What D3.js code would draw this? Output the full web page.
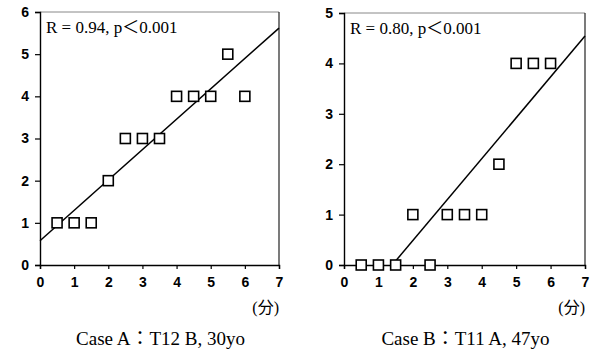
<!DOCTYPE html>
<html>
<head>
<meta charset="utf-8">
<script src="https://cdn.jsdelivr.net/npm/d3@7"></script>
<style>
  html, body { margin: 0; padding: 0; background: #fff; }
  svg { display: block; }
  .tick text { font-family: "Liberation Sans", Arial, sans-serif; font-weight: bold; font-size: 14px; fill: #000; }
  .serif { font-family: "Liberation Serif", "Times New Roman", "Noto Sans CJK JP", serif; fill: #000; }
</style>
</head>
<body>
<svg id="chart" width="594" height="356"></svg>
<script>
// Time in minutes (x) for both cases
const minutes = [0.5, 1, 1.5, 2, 2.5, 3, 3.5, 4, 4.5, 5, 5.5, 6];
// Scores per case
const caseAScores = [1, 1, 1, 2, 3, 3, 3, 4, 4, 4, 5, 4];
const caseBScores = [0, 0, 0, 1, 0, 1, 1, 1, 2, 4, 4, 4];
// Axis ticks
const xTicks = [0, 1, 2, 3, 4, 5, 6, 7];
const caseAYTicks = [0, 1, 2, 3, 4, 5, 6];
const caseBYTicks = [0, 1, 2, 3, 4, 5];
// Labels
const statLabels = ["R = 0.94, p＜0.001", "R = 0.80, p＜0.001"];
const captions = ["Case A：T12 B, 30yo", "Case B：T11 A, 47yo"];
const unitLabel = "(分)";

const svg = d3.select("#chart");

function linearFit(xs, ys) {
  const mx = d3.mean(xs), my = d3.mean(ys);
  let sxy = 0, sxx = 0;
  xs.forEach((x, i) => { sxy += (x - mx) * (ys[i] - my); sxx += (x - mx) * (x - mx); });
  const slope = sxy / sxx;
  return { slope, intercept: my - slope * mx };
}

function panel(cfg) {
  const { left, right, top, bottom, ys, yTicks, stat, caption } = cfg;
  const x = d3.scaleLinear().domain([0, 7]).range([left, right]);
  const y = d3.scaleLinear().domain([0, d3.max(yTicks)]).range([bottom, top]);
  const g = svg.append("g");

  // frame: top and right edges
  g.append("line").attr("x1", left).attr("x2", right).attr("y1", top).attr("y2", top)
    .attr("stroke", "#888").attr("stroke-width", 1);
  g.append("line").attr("x1", right).attr("x2", right).attr("y1", top).attr("y2", bottom)
    .attr("stroke", "#222").attr("stroke-width", 1.2);

  const xAxis = g.append("g").attr("transform", `translate(0,${bottom})`)
    .call(d3.axisBottom(x).tickValues(xTicks).tickFormat(d3.format("d")).tickSizeOuter(0).tickSize(4).tickPadding(8));
  const yAxis = g.append("g").attr("transform", `translate(${left},0)`)
    .call(d3.axisLeft(y).tickValues(yTicks).tickFormat(d3.format("d")).tickSizeOuter(0).tickSize(5).tickPadding(6));
  [xAxis, yAxis].forEach(a => {
    a.select(".domain").attr("stroke", "#000").attr("stroke-width", 1.4);
    a.selectAll(".tick line").attr("stroke", "#000").attr("stroke-width", 1.2);
  });

  // regression line, clipped to the plot area
  const fit = linearFit(minutes, ys);
  let x0 = 0;
  if (fit.intercept < 0) x0 = -fit.intercept / fit.slope;
  const x1 = 7;
  g.append("line")
    .attr("x1", x(x0)).attr("y1", y(fit.intercept + fit.slope * x0))
    .attr("x2", x(x1)).attr("y2", y(fit.intercept + fit.slope * x1))
    .attr("stroke", "#000").attr("stroke-width", 1.5);

  // square markers
  const s = 10;
  g.selectAll("rect.pt").data(minutes).enter().append("rect")
    .attr("class", "pt")
    .attr("x", (d) => x(d) - s / 2)
    .attr("y", (d, i) => y(ys[i]) - s / 2)
    .attr("width", s).attr("height", s)
    .attr("fill", "#fff").attr("stroke", "#000").attr("stroke-width", 1.6);

  g.append("text").attr("class", "serif")
    .attr("x", left + 6).attr("y", top + 21)
    .attr("font-size", 17).text(stat);

  g.append("text").attr("class", "serif")
    .attr("x", right).attr("y", 313).attr("text-anchor", "end")
    .attr("font-size", 16).text(unitLabel);

  g.append("text").attr("class", "serif")
    .attr("x", (left + right) / 2 + 1).attr("y", 345).attr("text-anchor", "middle")
    .attr("font-size", 19).text(caption);
}

panel({ left: 40, right: 279, top: 12, bottom: 265, ys: caseAScores, yTicks: caseAYTicks, stat: statLabels[0], caption: captions[0] });
panel({ left: 344, right: 585, top: 13, bottom: 265, ys: caseBScores, yTicks: caseBYTicks, stat: statLabels[1], caption: captions[1] });
</script>
</body>
</html>
